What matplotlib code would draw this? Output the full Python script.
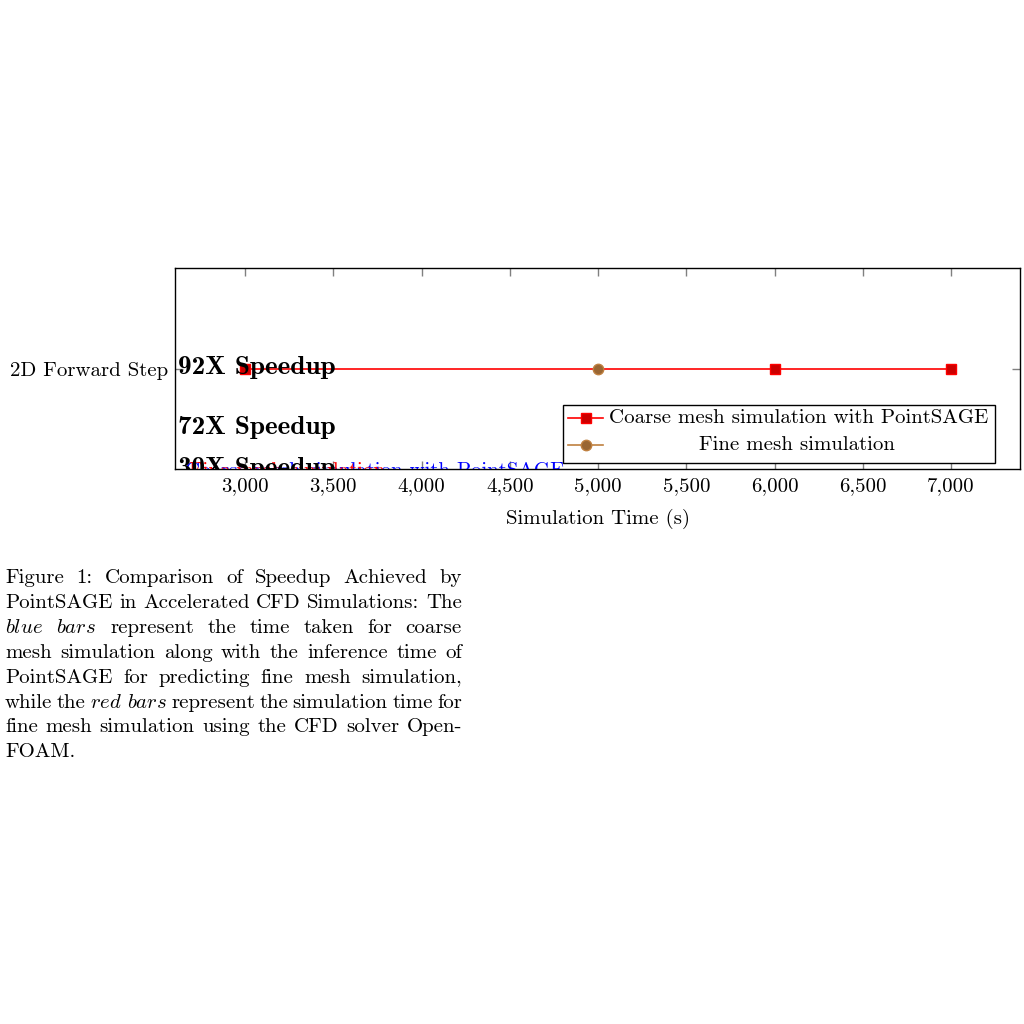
import matplotlib
matplotlib.use("Agg")
import matplotlib.pyplot as plt
from matplotlib.ticker import FuncFormatter
from matplotlib.patches import Rectangle
from matplotlib.lines import Line2D

plt.rcParams['font.family'] = ['cmr10', 'DejaVu Serif']
plt.rcParams['mathtext.fontset'] = 'cm'
plt.rcParams['axes.formatter.use_mathtext'] = True

# ---- data ----
category = ["2D Forward Step"]
coarse_x = [3000, 6000, 7000]
fine_x = [5000]
series_labels = ["Coarse mesh simulation with PointSAGE", "Fine mesh simulation"]
speedup_labels = ["92X Speedup", "72X Speedup", "30X Speedup"]
xticks = [3000, 3500, 4000, 4500, 5000, 5500, 6000, 6500, 7000]
xlabel = "Simulation Time (s)"
caption_lines = [
    "Figure 1: Comparison of Speedup Achieved by",
    "PointSAGE in Accelerated CFD Simulations: The",
    "*blue *bars represent the time taken for coarse",
    "mesh simulation along with the inference time of",
    "PointSAGE for predicting fine mesh simulation,",
    "while the *red *bars represent the simulation time for",
    "fine mesh simulation using the CFD solver Open-",
    "FOAM.",
]

RED = '#ff0000'
RED_FILL = '#cc0000'
BROWN = '#bf8040'
BROWN_FILL = '#996633'
FS = 15

fig = plt.figure(figsize=(10.24, 10.24), dpi=100)
W = H = 1024.0
L, R, T, B = 175, 1020, 268, 469
ax = fig.add_axes([L / W, 1 - B / H, (R - L) / W, (B - T) / H])

ax.plot(coarse_x, category * len(coarse_x), color=RED, lw=1.2, marker='s', ms=7.2,
        mfc=RED_FILL, mec=RED, zorder=3)
ax.plot(fine_x, category * len(fine_x), color=BROWN, lw=1.2, marker='o', ms=7.5,
        mfc=BROWN_FILL, mec=BROWN, zorder=4)

ax.set_xlim(2603, 7391)
ax.set_ylim(-1, 1)
ax.set_xticks(xticks)
ax.xaxis.set_major_formatter(FuncFormatter(lambda v, p: f"{v:,.0f}"))
ax.tick_params(direction='in', length=6, width=1, color='#808080',
               top=True, right=True, labelsize=FS, pad=5)
ax.tick_params(axis='x', pad=6)
for s in ax.spines.values():
    s.set_linewidth(1.0)
ax.set_xlabel(xlabel, fontsize=FS, labelpad=10)

# speedup annotations (clipped by axes, as in reference)
ys = [0.5025, 0.205, 0.0]
for lab, yy in zip(speedup_labels, ys):
    ax.text(0.004, yy, lab, transform=ax.transAxes, family='cmb10', fontsize=19.6,
            va='center', ha='left', clip_on=True, zorder=6)
# overlapping clipped series labels
ax.text(0.012, -0.035, series_labels[0], transform=ax.transAxes, color='blue',
        fontsize=FS, va='baseline', ha='left', clip_on=True, zorder=5)
ax.text(0.016, -0.035, series_labels[1], transform=ax.transAxes, color='red',
        fontsize=FS, va='baseline', ha='left', clip_on=True, zorder=5)

# legend (manual, centred second entry as in reference)
def ax_x(px):
    return (px - L) / (R - L)

def ax_y(py):
    return (B - py) / (B - T)

ax.add_patch(Rectangle((ax_x(563), ax_y(463)), ax_x(995) - ax_x(563), ax_y(405) - ax_y(463),
                       transform=ax.transAxes, fill=True, fc='white', ec='black', lw=1.0,
                       zorder=7, clip_on=False))
rows = [418, 445]
styles = [(RED, 's', RED_FILL, 7.2), (BROWN, 'o', BROWN_FILL, 7.5)]
for ry, (c, m, fc, ms) in zip(rows, styles):
    ax.add_line(Line2D([ax_x(568), ax_x(603)], [ax_y(ry), ax_y(ry)], transform=ax.transAxes,
                       color=c, lw=1.2, zorder=8, clip_on=False))
    ax.add_line(Line2D([ax_x(585.5)], [ax_y(ry)], transform=ax.transAxes, marker=m, ms=ms,
                       mfc=fc, mec=c, color=c, zorder=9, clip_on=False))
ax.text(ax_x(609), ax_y(rows[0]), series_labels[0], transform=ax.transAxes, fontsize=FS,
        va='center', ha='left', zorder=9)
ax.text(ax_x(797), ax_y(rows[1]), series_labels[1], transform=ax.transAxes, fontsize=FS,
        va='center', ha='center', zorder=9)

# caption: justified lines
renderer = fig.canvas.get_renderer()
x0, x1 = 5.0, 462.0
y_first = 583.0
dy = 24.9
for i, line in enumerate(caption_lines):
    words = line.split(' ')
    objs = []
    for w in words:
        if w.startswith('*'):
            s = r'$\mathit{' + w[1:] + '}$'
        else:
            s = w
        t = fig.text(0, 1 - (y_first + i * dy) / H, s, fontsize=FS, va='baseline', ha='left')
        objs.append(t)
    widths = [t.get_window_extent(renderer).width for t in objs]
    if i < len(caption_lines) - 1 and len(objs) > 1:
        gap = (x1 - x0 - sum(widths)) / (len(objs) - 1)
    else:
        gap = 6.5
    x = x0
    for t, w in zip(objs, widths):
        t.set_x(x / W)
        x += w + gap

fig.savefig('out.png', dpi=100)
